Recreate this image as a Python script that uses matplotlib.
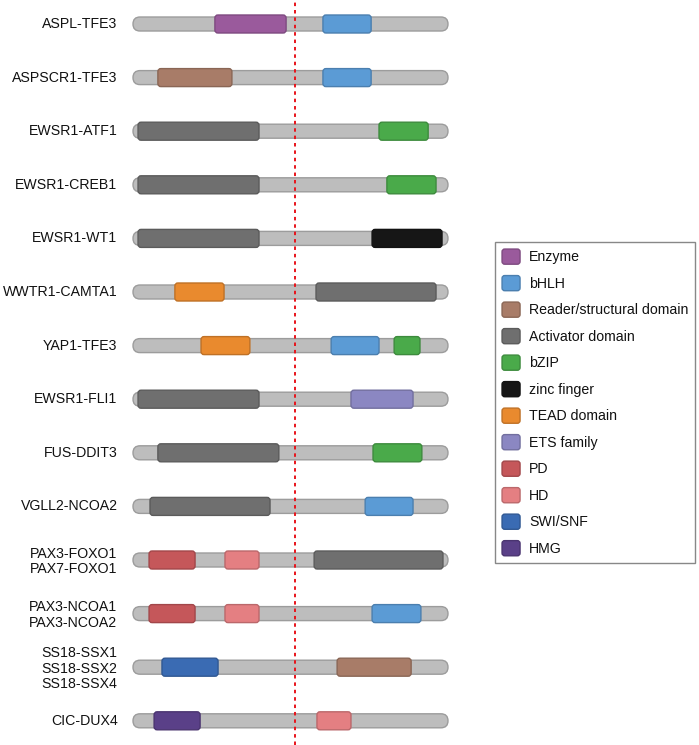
import matplotlib
matplotlib.use("Agg")
import matplotlib.pyplot as plt
from matplotlib.patches import FancyBboxPatch
from matplotlib.legend_handler import HandlerPatch
from matplotlib.patches import Patch
import matplotlib.colors as mcolors

plt.rcParams['font.family'] = ['Liberation Sans', 'DejaVu Sans']

# ---- data (positions as % of fusion protein length) ----
fusions = ["ASPL-TFE3", "ASPSCR1-TFE3", "EWSR1-ATF1", "EWSR1-CREB1", "EWSR1-WT1",
           "WWTR1-CAMTA1", "YAP1-TFE3", "EWSR1-FLI1", "FUS-DDIT3", "VGLL2-NCOA2",
           "PAX3-FOXO1\nPAX7-FOXO1", "PAX3-NCOA1\nPAX3-NCOA2",
           "SS18-SSX1\nSS18-SSX2\nSS18-SSX4", "CIC-DUX4"]

domain_types = ["Enzyme", "bHLH", "Reader/structural domain", "Activator domain", "bZIP",
                "zinc finger", "TEAD domain", "ETS family", "PD", "HD", "SWI/SNF", "HMG"]
domain_colors = ["#9a5a9c", "#5b9bd5", "#a87c68", "#6f6f6f", "#4aaa4a", "#161616",
                 "#e98a2e", "#8b87c2", "#c5575a", "#e47f82", "#3a6bb3", "#5a4088"]

# (fusion index, domain type, start, end)
dom_fusion = [0, 0, 1, 1, 2, 2, 3, 3, 4, 4, 5, 5, 6, 6, 6, 7, 7, 8, 8, 9, 9,
              10, 10, 10, 11, 11, 11, 12, 12, 13, 13]
dom_type = ["Enzyme", "bHLH", "Reader/structural domain", "bHLH",
            "Activator domain", "bZIP", "Activator domain", "bZIP",
            "Activator domain", "zinc finger", "TEAD domain", "Activator domain",
            "TEAD domain", "bHLH", "bZIP", "Activator domain", "ETS family",
            "Activator domain", "bZIP", "Activator domain", "bHLH",
            "PD", "HD", "Activator domain", "PD", "HD", "bHLH",
            "SWI/SNF", "Reader/structural domain", "HMG", "HD"]
dom_start = [26.0, 60.3, 7.9, 60.3, 1.6, 78.1, 1.6, 80.6, 1.6, 75.9, 13.3, 58.1,
             21.6, 62.9, 82.9, 1.6, 69.2, 7.9, 76.2, 5.4, 73.7,
             5.1, 29.2, 57.5, 5.1, 29.2, 75.9, 9.2, 64.8, 6.7, 58.4]
dom_end = [48.6, 75.6, 31.4, 75.6, 40.0, 93.7, 40.0, 96.2, 40.0, 98.1, 28.9, 96.2,
           37.1, 78.1, 91.1, 40.0, 88.9, 46.3, 91.7, 43.5, 88.9,
           19.7, 40.0, 98.4, 19.7, 40.0, 91.4, 27.0, 88.3, 21.3, 69.2]

breakpoint = 51.4
protein_length = 100.0

# ---- figure ----
W, H = 699, 745
fig = plt.figure(figsize=(W / 100, H / 100), dpi=100)
ax = fig.add_axes([0, 0, 1, 1])
px_x = 3.15      # pixels per x unit
px_y = 53.6      # pixels per row
x0_px = 133
y0_px = 24
ax.set_xlim(-x0_px / px_x, (W - x0_px) / px_x)
ax.set_ylim((H - y0_px) / px_y, -y0_px / px_y)
ax.axis('off')

aspect = px_x / px_y

def darker(c, f=0.82):
    r, g, b = mcolors.to_rgb(c)
    return (r * f, g * f, b * f)

fs = 10.15
bb_h = 14 / px_y
dm_h = 18 / px_y
for i, name in enumerate(fusions):
    bb = FancyBboxPatch((0, i - bb_h / 2), protein_length, bb_h,
                        boxstyle=f"round,pad=0,rounding_size={7 / px_x}",
                        mutation_aspect=aspect, facecolor="#bdbdbd",
                        edgecolor="#9c9c9c", linewidth=1.0, zorder=2)
    ax.add_patch(bb)
    ax.text(-15.5 / px_x, i + (1.5 / px_y if '\n' in name else 0), name,
            ha='right', va='center', fontsize=fs,
            linespacing=1.14, color='#111111')

for fi, t, s, e in zip(dom_fusion, dom_type, dom_start, dom_end):
    c = domain_colors[domain_types.index(t)]
    p = FancyBboxPatch((s, fi - dm_h / 2), e - s, dm_h,
                       boxstyle=f"round,pad=0,rounding_size={3 / px_x}",
                       mutation_aspect=aspect, facecolor=c,
                       edgecolor=darker(c), linewidth=1.0, zorder=3)
    ax.add_patch(p)

ax.axvline(breakpoint, color='#e8141b', linestyle=(0, (1.8, 2.0)), linewidth=1.4, zorder=4)


class RoundHandler(HandlerPatch):
    def create_artists(self, legend, orig_handle, xdescent, ydescent,
                       width, height, fontsize, trans):
        p = FancyBboxPatch((-xdescent, -ydescent), width, height,
                           boxstyle=f"round,pad=0,rounding_size={height * 0.18}",
                           facecolor=orig_handle.get_facecolor(),
                           edgecolor=orig_handle.get_edgecolor(),
                           linewidth=1.0, transform=trans)
        return [p]


handles = [Patch(facecolor=c, edgecolor=darker(c), label=t)
           for t, c in zip(domain_types, domain_colors)]
fs_px = fs * 100 / 72
leg = fig.legend(handles=handles, loc='upper left',
                 bbox_to_anchor=(495 / W, 1 - 242 / H), borderaxespad=0,
                 fontsize=fs, frameon=True, fancybox=False,
                 handlelength=18 / fs_px, handleheight=18 / fs_px,
                 handletextpad=9 / fs_px, labelspacing=11.2 / fs_px,
                 borderpad=0.5,
                 handler_map={Patch: RoundHandler()})
leg.get_frame().set_edgecolor('#6a6a6a')
leg.get_frame().set_linewidth(1.0)
for t in leg.get_texts():
    t.set_color('#111111')

fig.savefig("out.png", dpi=100)
